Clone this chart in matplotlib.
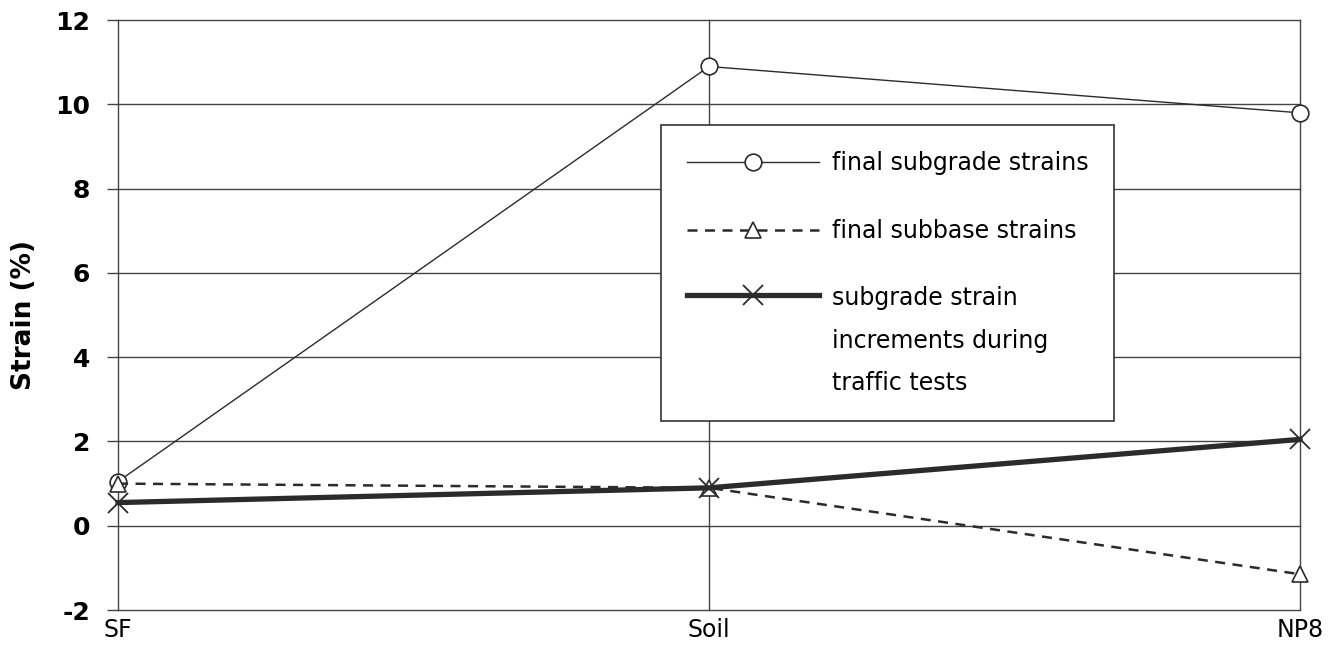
import matplotlib
matplotlib.use("Agg")
import matplotlib.pyplot as plt

categories = ["SF", "Soil", "NP8"]
subgrade_final = [1.05, 10.9, 9.8]
subbase_final = [1.0, 0.9, -1.15]
subgrade_increments = [0.55, 0.9, 2.05]
labels = ["final subgrade strains", "final subbase strains",
          "subgrade strain\nincrements during\ntraffic tests"]
yticks = [-2, 0, 2, 4, 6, 8, 10, 12]

plt.rcParams['font.family'] = ['DejaVu Sans']
fig = plt.figure(figsize=(13.31, 6.5), dpi=100)
ax = fig.add_axes([0.0887, 0.0615, 0.8880, 0.9075])

x = list(range(len(categories)))
c = "#2b2b2b"
l1, = ax.plot(x, subgrade_final, color=c, lw=1.0, marker="o", ms=12,
              mfc="white", mec=c, mew=1.2, label=labels[0], zorder=3, clip_on=False)
l2, = ax.plot(x, subbase_final, color=c, lw=1.8, ls=(0, (4, 3)), marker="^", ms=11,
              mfc="white", mec=c, mew=1.2, label=labels[1], zorder=3, clip_on=False)
l3, = ax.plot(x, subgrade_increments, color=c, lw=3.8, marker="x", ms=14,
              mec=c, mew=1.3, label=labels[2], zorder=3, clip_on=False)

ax.set_xlim(0, 2)
ax.set_ylim(-2, 12)
ax.set_xticks(x)
ax.set_xticklabels(categories, fontsize=17)
ax.set_yticks(yticks)
ax.set_yticklabels([str(v) for v in yticks], fontsize=18, fontweight="bold")
ax.tick_params(axis="x", length=0, pad=6)
ax.tick_params(axis="y", length=8, width=1, color="#444444", pad=12)
ax.grid(True, color="#444444", lw=1)
for gl in ax.get_xgridlines() + ax.get_ygridlines():
    gl.set_clip_on(False)
for s in ["top", "right", "left", "bottom"]:
    ax.spines[s].set_visible(False)
ax.set_ylabel("Strain (%)", fontsize=19, fontweight="bold", labelpad=13)

leg = ax.legend(handles=[l1, l2, l3], loc="upper left", bbox_to_anchor=(0.459, 0.822),
                fontsize=17, frameon=True, fancybox=False, framealpha=1,
                handlelength=5.6, handletextpad=0.55, labelspacing=1.85,
                borderpad=1.1, borderaxespad=0)
leg.get_frame().set_edgecolor("#333333")
leg.get_frame().set_linewidth(1.2)
leg.get_texts()[2].set_linespacing(1.95)
try:
    item = leg._legend_handle_box.get_children()[0].get_children()[2]
    item.align = "top"
except Exception:
    pass

fig.savefig("out.png", dpi=100)
